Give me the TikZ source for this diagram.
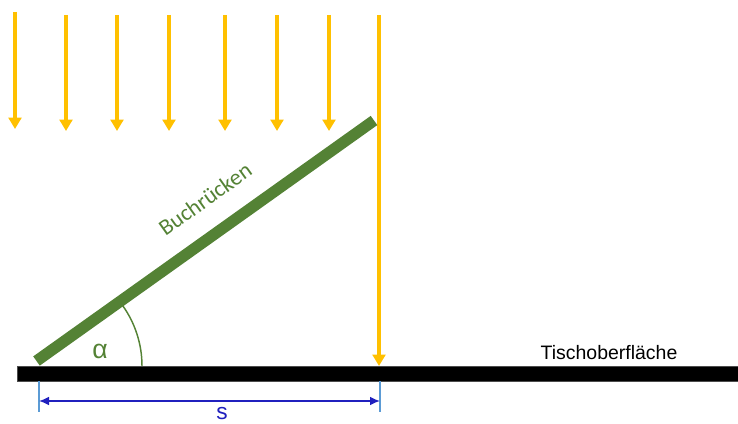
\documentclass[tikz,border=0pt]{standalone}
\usepackage{fontspec}
\setmainfont{Liberation Sans}
\newfontfamily\calibri{Carlito}
\usetikzlibrary{arrows.meta}
\definecolor{sun}{RGB}{255,192,0}
\definecolor{bookgreen}{RGB}{84,130,53}
\definecolor{dimblue}{RGB}{32,32,190}
\definecolor{tickblue}{RGB}{91,155,213}
\tikzset{
  ray/.style={draw=sun, line width=3pt, -{Triangle[width=9.5pt,length=8.5pt]}},
  spine/.style={draw=bookgreen, line width=8.5pt},
  dimline/.style={draw=dimblue, line width=1.1pt, {Latex[length=7.5pt,width=6.5pt]}-{Latex[length=7.5pt,width=6.5pt]}},
  tick/.style={draw=tickblue, line width=1pt},
}
\begin{document}
\begin{tikzpicture}[x=0.75pt,y=-0.75pt]
\useasboundingbox (0,0) rectangle (738,424);
% rays
\coordinate (r1s) at (15,12);  \coordinate (r1e) at (15,129);
\coordinate (r2s) at (66,15);  \coordinate (r2e) at (66,131);
\coordinate (r3s) at (117,15); \coordinate (r3e) at (117,131);
\coordinate (r4s) at (169,15); \coordinate (r4e) at (169,131);
\coordinate (r5s) at (225,15); \coordinate (r5e) at (225,131);
\coordinate (r6s) at (277,15); \coordinate (r6e) at (277,131);
\coordinate (r7s) at (329,15); \coordinate (r7e) at (329,131);
\coordinate (r8s) at (379,15); \coordinate (r8e) at (379,366);
\foreach \i in {1,...,8} { \draw[ray] (r\i s) -- (r\i e); }
% table
\node[draw=black!70, fill=black, line width=0.5pt, minimum width=721*0.75pt, minimum height=15*0.75pt, inner sep=0pt, anchor=north west] (table) at (17,366) {};
\node[anchor=base, font=\fontsize{14.6}{16}\selectfont] (tlabel) at (609,359) {Tischoberfläche};
% book spine
\coordinate (b0) at (36.5,361);
\coordinate (b1) at (374,120.5);
\draw[spine] (b0) -- (b1);
\node[text=bookgreen, rotate=35.5, font=\calibri\fontsize{17}{20}\selectfont] (blabel) at (205,199) {Buchrücken};
% angle
\coordinate (ac) at (38,366);
\draw[draw=bookgreen, line width=1.1pt] (142,366) arc[start angle=0, end angle=35.5, radius=104*0.75pt];
\node[text=bookgreen, font=\fontsize{20}{22}\selectfont] (alpha) at (100,351) {α};
% dimension
\coordinate (t1a) at (39,381); \coordinate (t1b) at (39,412);
\coordinate (t2a) at (380,381); \coordinate (t2b) at (380,412);
\draw[tick] (t1a) -- (t1b);
\draw[tick] (t2a) -- (t2b);
\coordinate (d1) at (39,401); \coordinate (d2) at (380,401);
\draw[dimline] (d1) -- (d2);
\node[text=dimblue, font=\fontsize{17}{20}\selectfont] (slabel) at (222,414) {s};
\end{tikzpicture}
\end{document}
